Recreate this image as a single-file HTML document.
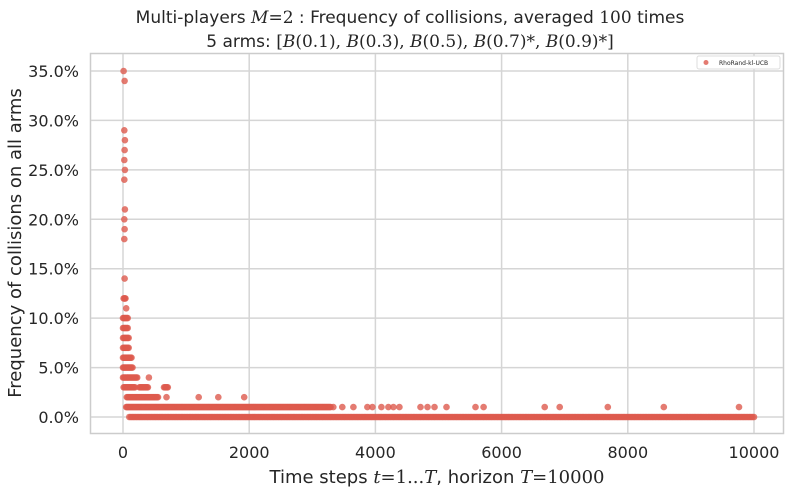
<!DOCTYPE html>
<html><head><meta charset="utf-8"><style>
body{margin:0;background:#fff;}
svg{display:block;font-family:"DejaVu Sans","Liberation Sans",sans-serif;}
.m{font-family:"DejaVu Serif","Liberation Serif",serif;font-style:italic;}
.r{font-family:"DejaVu Serif","Liberation Serif",serif;}
</style></head><body>
<svg id="c" width="799" height="495">
<rect x="90.5" y="53.5" width="693" height="380" fill="#fff" stroke="#ccc" stroke-width="1.5"/>
<g id="grid"></g><g id="pts"></g><g id="ticks"></g>
<text x="410" y="23" text-anchor="middle" font-size="17" fill="#262626">Multi-players <tspan class="m">M</tspan><tspan class="r">=2</tspan> : Frequency of collisions, averaged <tspan class="r">100</tspan> times</text>
<text x="410" y="47" text-anchor="middle" font-size="17" fill="#262626">5 arms: <tspan class="r">[</tspan><tspan class="m">B</tspan><tspan class="r">(0.1), </tspan><tspan class="m">B</tspan><tspan class="r">(0.3), </tspan><tspan class="m">B</tspan><tspan class="r">(0.5), </tspan><tspan class="m">B</tspan><tspan class="r">(0.7)*, </tspan><tspan class="m">B</tspan><tspan class="r">(0.9)*]</tspan></text>
<text x="437" y="483" text-anchor="middle" font-size="18" fill="#262626">Time steps <tspan class="m">t</tspan><tspan class="r">=1...</tspan><tspan class="m">T</tspan>, horizon <tspan class="m">T</tspan><tspan class="r">=10000</tspan></text>
<text transform="translate(21,243) rotate(-90)" text-anchor="middle" font-size="18" fill="#262626">Frequency of collisions on all arms</text>
<g>
<rect x="697" y="56" width="83" height="13" fill="#fff" stroke="#ddd" rx="2"/>
<circle cx="706" cy="62.5" r="2.5" fill="#dd5a4e" opacity="0.8"/>
<text x="719" y="65" font-size="6" fill="#262626">RhoRand-kl-UCB</text>
</g>
</svg>
<script>
const xTicks=[0,2000,4000,6000,8000,10000];
const yTicks=[0,5,10,15,20,25,30,35];
// sparse points: times and frequencies (%)
const sparseT=[10,25,20,30,25,20,30,20,30,20,25,20,25,25,50,690,1200,1510,1920,410,
3333,3476,3651,3873,3952,4095,4206,4286,4381,4714,4825,4937,5127,5587,5714,6683,6921,7683,8571,9762];
const sparseV=[35,34,29,28,27,26,25,24,21,20,19,18,14,12,11,2,2,2,2,4,
1,1,1,1,1,1,1,1,1,1,1,1,1,1,1,1,1,1,1,1];
// dense runs: level (%), start time, end time
const runLevel=[0,1,2,3,3,3,4,5,6,7,8,9,10,12];
const runStart=[100,50,60,10,260,650,0,0,0,0,0,0,0,10];
const runEnd=[10000,3300,560,200,400,720,230,160,140,100,100,80,80,50];
const X=t=>123+t*0.0631, Y=v=>417-v*9.886;
const ns="http://www.w3.org/2000/svg";
const grid=document.getElementById('grid'),pts=document.getElementById('pts'),tk=document.getElementById('ticks');
function mk(tag,a,p){const e=document.createElementNS(ns,tag);for(const k in a)e.setAttribute(k,a[k]);p.appendChild(e);return e;}
xTicks.forEach(t=>{const l=mk('line',{x1:X(t),x2:X(t),y1:54,y2:433,stroke:'#d5d5d5','stroke-width':1.5},grid);


const tx=mk('text',{x:X(t),y:458,'text-anchor':'middle','font-size':16,fill:'#262626'},tk);tx.textContent=t;

});
yTicks.forEach(v=>{const l=mk('line',{x1:91,x2:783,y1:Y(v),y2:Y(v),stroke:'#d5d5d5','stroke-width':1.5},grid);


const tx=mk('text',{x:79,y:Y(v)+6,'text-anchor':'end','font-size':16,fill:'#262626'},tk);tx.textContent=v.toFixed(1)+'%';

});
function dot(t,v){const c=mk('circle',{cx:X(t).toFixed(1),cy:Y(v).toFixed(1),r:3.3,fill:'#dd5a4e','fill-opacity':0.8},pts);

}
runLevel.forEach((lv,i)=>{for(let t=runStart[i];t<=runEnd[i];t+=(lv===0?25:15))dot(t,lv);});
sparseT.forEach((t,i)=>dot(t,sparseV[i]));
</script>
</body></html>
